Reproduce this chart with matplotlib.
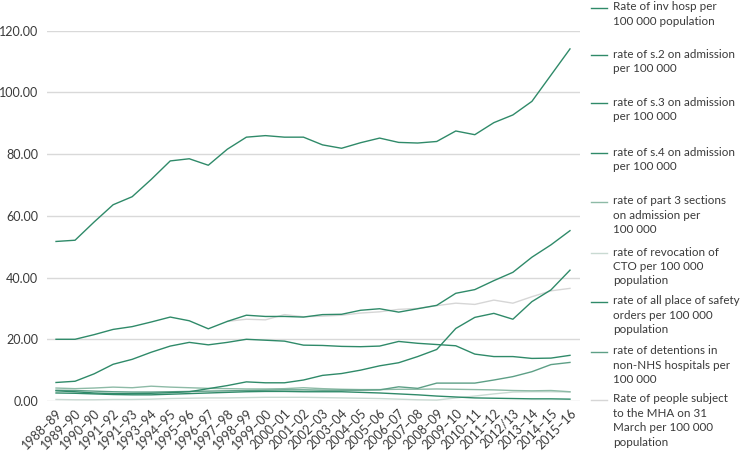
import numpy as np
import matplotlib.pyplot as plt

plt.rcParams['font.family'] = ['Lato', 'DejaVu Sans']

years = ['1988–89', '1989–90', '1990–90', '1991–92', '1991–93', '1993–94', '1994–95',
         '1995–96', '1996–97', '1997–98', '1998–99', '1999–00', '2000–01', '2001–02',
         '2002–03', '2003–04', '2004–05', '2005–06', '2006–07', '2007–08', '2008–09',
         '2009–10', '2010–11', '2011–12', '2012/13', '2013–14', '2014–15', '2015–16']

nan = np.nan
inv_hosp = [51.7, 52.1, 58.0, 63.6, 66.2, 71.8, 77.8, 78.5, 76.4, 81.6, 85.5, 86.0, 85.5, 85.5,
            83.0, 81.9, 83.7, 85.2, 83.8, 83.6, 84.1, 87.5, 86.3, 90.2, 92.7, 97.1, 105.6, 114.1]
s2 = [20.0, 20.0, 21.5, 23.2, 24.1, 25.6, 27.2, 26.0, 23.4, 25.8, 27.8, 27.4, 27.4, 27.2,
      28.0, 28.1, 29.4, 29.9, 28.8, 29.9, 31.0, 34.9, 36.1, 39.0, 41.7, 46.6, 50.6, 55.2]
s3 = [6.0, 6.4, 8.8, 11.9, 13.5, 15.8, 17.8, 19.0, 18.2, 19.0, 20.0, 19.7, 19.4, 18.1,
      18.0, 17.7, 17.6, 17.8, 19.3, 18.7, 18.3, 17.9, 15.2, 14.4, 14.4, 13.8, 13.9, 14.8]
s4 = [2.6, 2.5, 2.3, 2.1, 2.0, 2.0, 2.2, 2.4, 2.6, 2.8, 3.0, 3.1, 3.1, 3.0,
      3.0, 3.0, 2.8, 2.6, 2.3, 2.0, 1.6, 1.3, 1.0, 0.9, 0.8, 0.7, 0.7, 0.6]
part3 = [4.2, 4.0, 4.2, 4.5, 4.3, 4.8, 4.5, 4.3, 4.1, 4.0, 3.9, 3.9, 4.0, 4.3,
         4.0, 3.8, 3.7, 3.7, 3.8, 3.8, 3.9, 3.8, 3.7, 3.6, 3.4, 3.3, 3.4, 3.0]
cto = [0.5, 0.4, 0.4, 0.5, 0.5, 0.6, 0.8, 0.9, 1.0, 1.0, 1.1, 1.2, 1.2, 1.2,
       1.1, 1.0, 0.9, 0.8, 0.6, 0.4, 0.3, 1.0, 1.6, 2.3, 2.9, 3.0, 3.0, 2.9]
safety = [3.3, 3.0, 2.6, 2.4, 2.4, 2.5, 2.7, 3.0, 4.0, 5.0, 6.2, 5.9, 5.9, 6.8,
          8.3, 8.9, 10.0, 11.4, 12.4, 14.4, 16.7, 23.5, 27.1, 28.4, 26.5, 32.2, 36.0, 42.4]
non_nhs = [3.5, 3.4, 3.2, 3.0, 2.9, 2.9, 3.0, 3.1, 3.2, 3.3, 3.4, 3.5, 3.6, 3.6,
           3.5, 3.5, 3.5, 3.6, 4.6, 4.1, 5.8, 5.8, 5.8, 6.8, 7.9, 9.5, 11.8, 12.5]
mha = [nan] * 9 + [25.8, 26.5, 26.3, 28.0, 27.3, 27.5, 27.8, 28.5, 28.9, 29.7,
                   30.0, 30.9, 31.7, 31.3, 32.7, 31.7, 33.8, 35.7, 36.5]

labels = ['Rate of inv hosp per\n100 000 population',
          'rate of s.2 on admission\nper 100 000',
          'rate of s.3 on admission\nper 100 000',
          'rate of s.4 on admission\nper 100 000',
          'rate of part 3 sections\non admission per\n100 000',
          'rate of revocation of\nCTO per 100 000\npopulation',
          'rate of all place of safety\norders per 100 000\npopulation',
          'rate of detentions in\nnon-NHS hospitals per\n100 000',
          'Rate of people subject\nto the MHA on 31\nMarch per 100 000\npopulation']
series = [inv_hosp, s2, s3, s4, part3, cto, safety, non_nhs, mha]
dark = '#2f8a69'
colors = [dark, dark, dark, dark, '#8dbaa6', '#c9dad2', dark, '#5d9f86', '#d6d6d6']
legend_y = [8, 55, 103, 153, 202, 253, 302, 352, 400]  # pixel rows of legend lines

W, H = 744, 451
fig = plt.figure(figsize=(W / 100, H / 100), dpi=100)
ax = fig.add_axes([46.5 / W, 1 - 401 / H, 533 / W, 370.3 / H])

x = np.arange(len(years))
order = [8, 5, 4, 7, 3, 6, 2, 1, 0]
for i in order:
    ax.plot(x, series[i], color=colors[i], lw=1.0)

ax.set_xlim(-0.5, len(years) - 0.5)
ax.set_ylim(0, 120)
ax.set_yticks(np.arange(0, 121, 20))
ax.set_yticklabels([f'{v:.2f}' for v in np.arange(0, 121, 20)])
ax.set_xticks(x)
ax.set_xticklabels(years, rotation=45, ha='right', rotation_mode='anchor')
ax.tick_params(length=0, labelsize=9, colors='#3a3a3a', pad=4)
ax.tick_params(axis='y', pad=6)
ax.grid(axis='y', color='#d9d9d9', lw=1.0)
ax.set_axisbelow(True)
for s in ax.spines.values():
    s.set_visible(False)

for lab, col, py in zip(labels, colors, legend_y):
    yf = 1 - py / H
    fig.add_artist(plt.Line2D([591 / W, 607 / W], [yf, yf], color=col, lw=1.0))
    fig.text(613 / W, yf + 6.5 / H, lab, ha='left', va='top', fontsize=8.4,
             color='#3a3a3a', linespacing=1.38)

fig.savefig('out.png', dpi=100)
